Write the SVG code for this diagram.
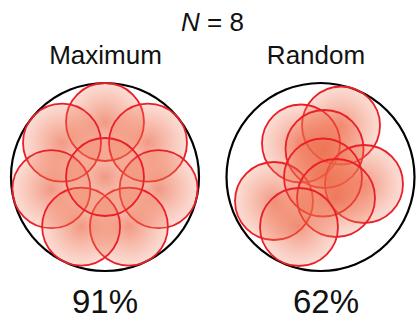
<svg xmlns="http://www.w3.org/2000/svg" width="417" height="322" viewBox="0 0 417 322">
<defs>
<radialGradient id="g">
<stop offset="0" stop-color="#ea5a38" stop-opacity="0.62"/>
<stop offset="1" stop-color="#f07552" stop-opacity="0.24"/>
</radialGradient>
<style>
.s{fill:url(#g);stroke:#ea1f28;stroke-width:1.8}
.b{fill:none;stroke:#000;stroke-width:2.2}
.t{font-family:"Liberation Sans",Arial,sans-serif;fill:#111}
</style>
</defs>
<rect width="417" height="322" fill="#fff"/>
<g id="title">
<text class="t" x="212.5" y="31" font-size="26" text-anchor="middle"><tspan font-style="italic">N</tspan> = 8</text>
</g>
<g id="maximum">
<text class="t" x="105.5" y="64" font-size="26" text-anchor="middle">Maximum</text>
<circle class="b" cx="105" cy="177" r="94"/>
<circle class="s" cx="105" cy="122" r="39"/>
<circle class="s" cx="148" cy="142.7" r="39"/>
<circle class="s" cx="62" cy="142.7" r="39"/>
<circle class="s" cx="158.6" cy="189.2" r="39"/>
<circle class="s" cx="51.4" cy="189.2" r="39"/>
<circle class="s" cx="128.9" cy="226.6" r="39"/>
<circle class="s" cx="81.1" cy="226.6" r="39"/>
<circle class="s" cx="105" cy="177" r="39"/>
<text class="t" x="105" y="313" font-size="33" text-anchor="middle">91%</text>
</g>
<g id="random">
<text class="t" x="316" y="64" font-size="26" text-anchor="middle">Random</text>
<circle class="b" cx="320.5" cy="177" r="94"/>
<circle class="s" cx="341" cy="125.5" r="39"/>
<circle class="s" cx="301" cy="143.5" r="39"/>
<circle class="s" cx="324.5" cy="149" r="39"/>
<circle class="s" cx="364" cy="184" r="39"/>
<circle class="s" cx="274" cy="201" r="39"/>
<circle class="s" cx="323" cy="177.5" r="39"/>
<circle class="s" cx="336" cy="198" r="39"/>
<circle class="s" cx="299" cy="227" r="39"/>
<text class="t" x="326" y="313" font-size="33" text-anchor="middle">62%</text>
</g>
</svg>
